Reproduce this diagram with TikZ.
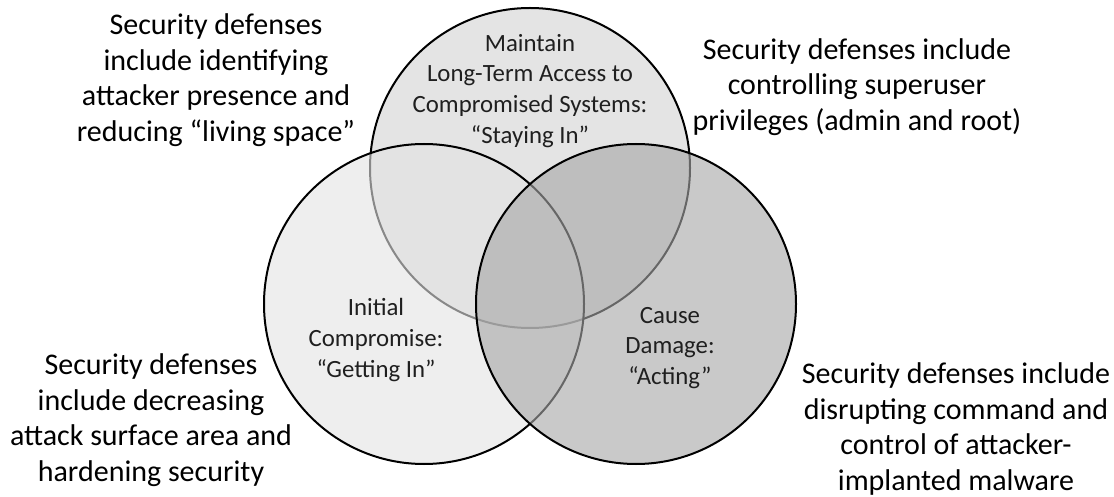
\documentclass[tikz,border=0pt]{standalone}
\usepackage{fontspec}
\setmainfont{Carlito}
\usepackage{tikz}
\definecolor{fillTop}{gray}{0.894}
\definecolor{fillLeft}{gray}{0.89}
\definecolor{fillRight}{gray}{0.655}

\begin{document}
\begin{tikzpicture}[x=0.5pt, y=-0.5pt,
    outer/.style={align=center, font=\fontsize{15}{17.8}\selectfont, text=black},
    inner/.style={align=center, font=\fontsize{12.4}{15.4}\selectfont, text=black!88}]
    \useasboundingbox (0,0) rectangle (1114,497);

    % Circles, drawn top, left, right
    \filldraw[fill=fillTop, line width=1pt] (530,168) circle (160);
    \filldraw[fill=fillLeft, fill opacity=0.6, line width=1pt] (424,304) circle (160);
    \filldraw[fill=fillRight, fill opacity=0.61, line width=1pt] (636,304) circle (160);

    % Labels inside the circles
    \node[inner] (stay) at (530,91) {Maintain\\Long-Term Access to\\Compromised Systems:\\“Staying In”};
    \node[inner] (getin) at (376,340) {Initial\\Compromise:\\“Getting In”};
    \node[inner] (acting) at (670,348) {Cause\\Damage:\\“Acting”};

    % Defenses around the circles
    \node[outer] (defTL) at (216,80) {Security defenses\\include identifying\\attacker presence and\\reducing “living space”};
    \node[outer] (defTR) at (857,87) {Security defenses include\\controlling superuser\\privileges (admin and root)};
    \node[outer] (defBL) at (151,420) {Security defenses\\include decreasing\\attack surface area and\\hardening security};
    \node[outer] (defBR) at (956,429) {Security defenses include\\disrupting command and\\control of attacker-\\implanted malware};
\end{tikzpicture}
\end{document}
